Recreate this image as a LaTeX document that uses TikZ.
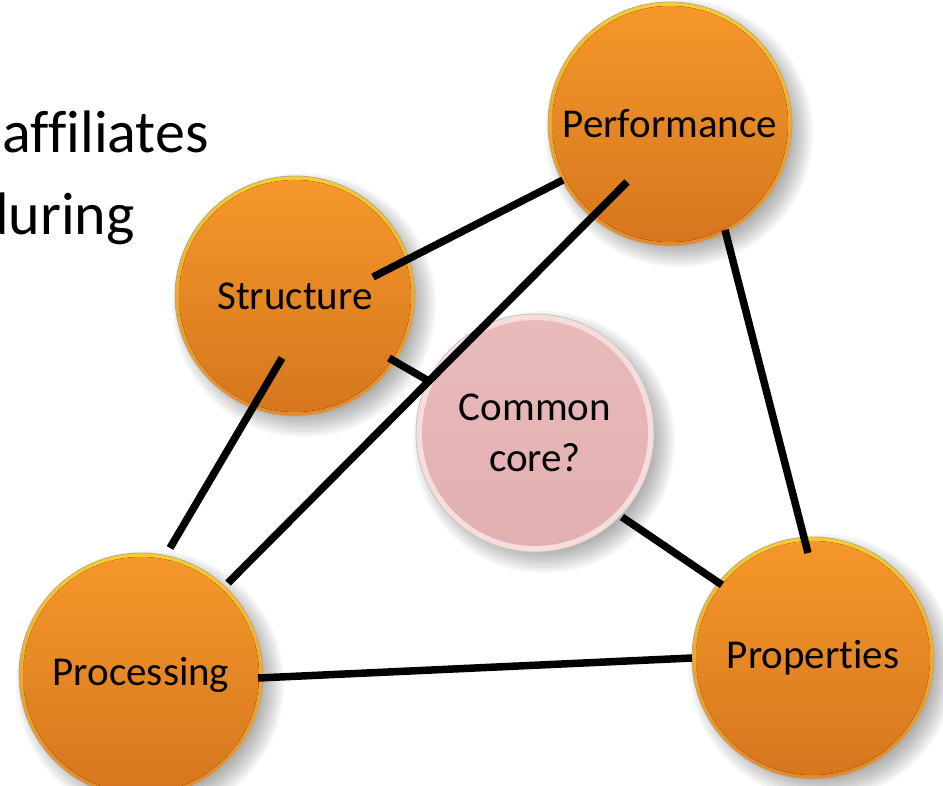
\documentclass[tikz,border=0pt]{standalone}
\usepackage{fontspec}
\setmainfont{Carlito}[Ligatures=NoCommon]
\usetikzlibrary{calc}
\definecolor{orTop}{HTML}{F6982A}
\definecolor{orBot}{HTML}{D5761E}
\definecolor{rimTop}{HTML}{F8CC30}
\definecolor{rimBot}{HTML}{E5882A}
\definecolor{edgeGrey}{HTML}{B8A890}
\definecolor{pkRim}{HTML}{F7DCDC}
\definecolor{pkTop}{HTML}{E9BBBB}
\definecolor{pkBot}{HTML}{E2AFAF}
\definecolor{ccEdge}{HTML}{C4C4C4}
\tikzset{
  ball/.style={circle, minimum size=#1, inner sep=0pt, draw=edgeGrey, line width=0.8pt,
    top color=rimTop, bottom color=rimBot,
    path picture={\fill[top color=orTop, bottom color=orBot]
      (path picture bounding box.center) circle[radius=#1/2-4pt];},
    font=\fontsize{41}{49}\selectfont, align=center},
  ball/.default=244pt,
  ccball/.style={circle, minimum size=238pt, inner sep=0pt, draw=ccEdge, line width=0.8pt,
    fill=pkRim,
    path picture={\fill[top color=pkTop, bottom color=pkBot]
      (path picture bounding box.center) circle[radius=113pt];},
    font=\fontsize{41}{51}\selectfont, align=center},
  link/.style={line width=7.5pt, black},
  bigtext/.style={anchor=base east, inner sep=0pt, font=\fontsize{60}{72}\selectfont},
}
\begin{document}
\begin{tikzpicture}[x=1pt,y=-1pt]
\useasboundingbox (0,0) rectangle (943,786);
\clip (0,0) rectangle (943,786);
% soft shadows
\foreach \cx/\cy/\r in {670/124/122, 295/296/120, 535/433/119, 141/675/122, 813/658/121}{
  \foreach \i in {0,...,9}{
    \fill[black, opacity=0.035] (\cx+9,\cy+9) circle[radius={(\r+12-2.4*\i)*1pt}];
  }
}
% text fragments (cut by the left edge)
\node[bigtext] (t1) at (209,153) {affiliates};
\node[bigtext] (t2) at (135,235) {during};
% circles
\node[ball] (Pf) at (670,124) {Performance};
\node[ball=240pt] (St) at (295,296) {Structure};
\node[ccball] (CC) at (535,433) {Common\\core?};
\node[ball] (Pc) at (141,675) {Processing};
\node[ball=242pt] (Pr) at (813,658) {Properties};
% connectors
\draw[link] ($(St)+(78,-19)$) -- ($(Pf)+(-107,56)$);
\draw[link] ($(Pf)+(-43,58)$) -- ($(Pc)+(87,-92)$);
\draw[link] ($(Pf)+(55,106)$) -- ($(Pr)+(-5,-105)$);
\draw[link] ($(St)+(-13,62)$) -- ($(Pc)+(29,-127)$);
\draw[link] ($(St)+(94,62)$) -- ($(CC)+(-108,-53)$);
\draw[link] ($(CC)+(87,84)$) -- ($(Pr)+(-91,-73)$);
\draw[link] ($(Pc)+(117,3)$) -- ($(Pr)+(-121,0)$);
\end{tikzpicture}
\end{document}
